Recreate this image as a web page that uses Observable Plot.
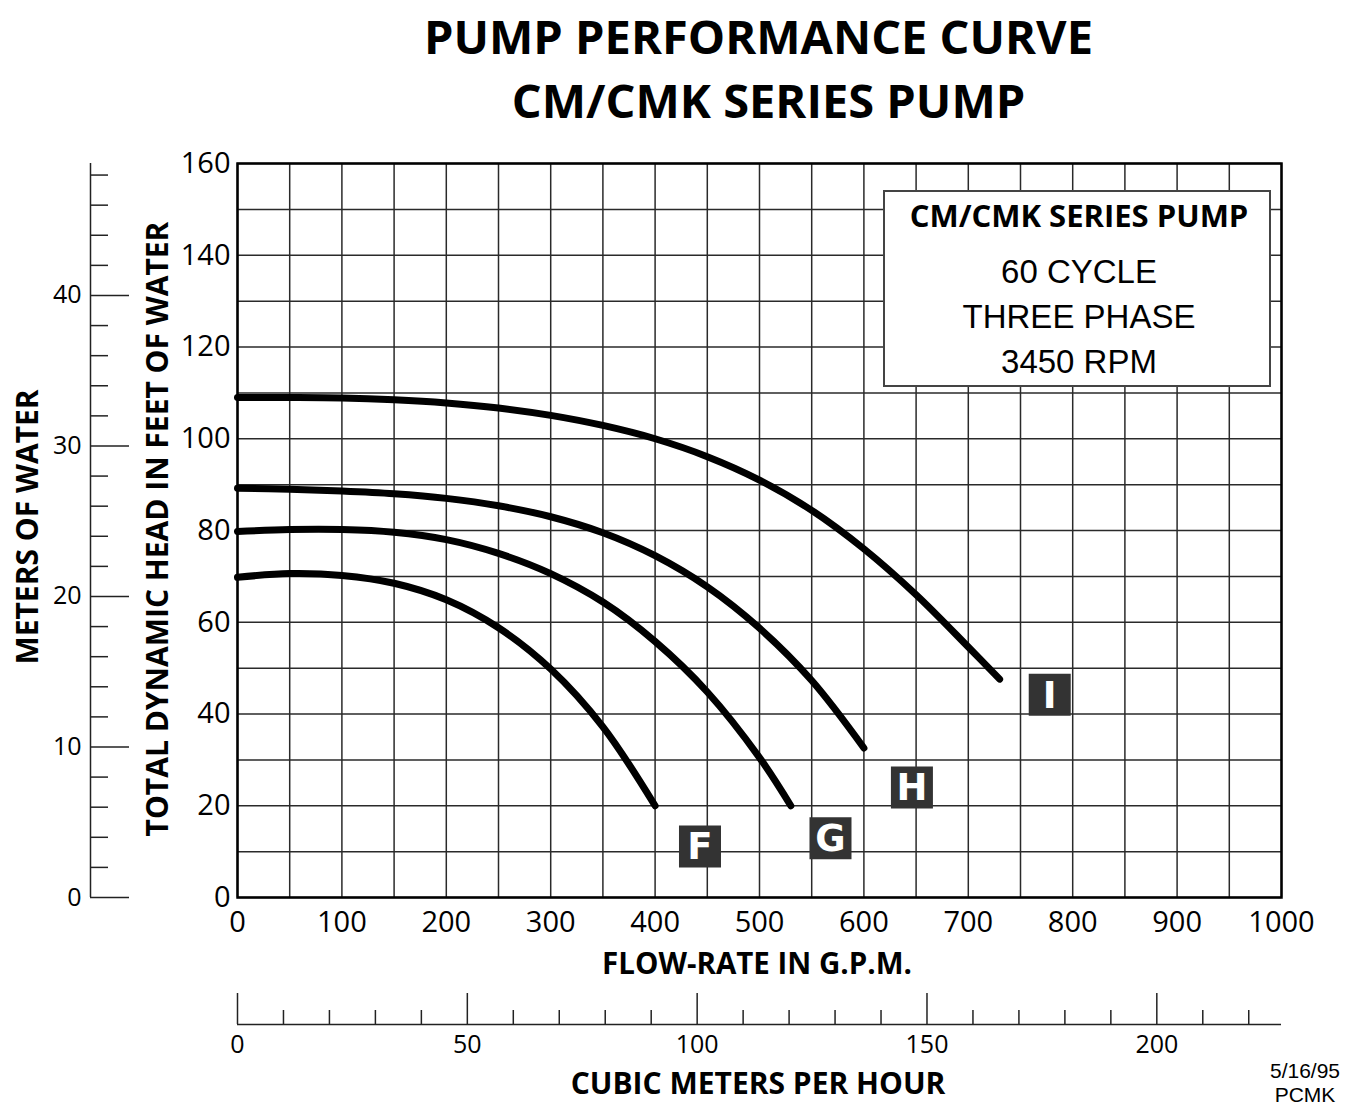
<!DOCTYPE html>
<html>
<head>
<meta charset="utf-8">
<script src="https://cdn.jsdelivr.net/npm/d3@7"></script>
<script src="https://cdn.jsdelivr.net/npm/@observablehq/plot@0.6"></script>
<style>
  body { margin: 0; background: #fff; }
  #wrap { position: relative; width: 1350px; height: 1112px; overflow: hidden; background: #fff; }
  #legend { position: absolute; left: 883px; top: 190px; width: 388px; height: 197px; box-sizing: border-box;
            border: 2px solid #444; background: #fff; }
  #legend div { position: absolute; left: 0; width: 100%; text-align: center; padding-left: 4px; box-sizing: border-box; white-space: nowrap; color: #000; }
  .lgB { font-family: "Open Sans", sans-serif; font-weight: 700; font-size: 31px; line-height: 31px; }
  .lgR { font-family: "Liberation Sans", Arial, sans-serif; font-weight: 400; font-size: 33px; line-height: 33px; }
</style>
</head>
<body>
<div id="wrap"></div>
<script>
// ---- data ----
const pumpNames = ["F", "G", "H", "I"];

const gpmF = [0, 50, 100, 150, 200, 250, 300, 350, 400];
const ftF  = [69.8, 70.6, 70.2, 68.5, 64.9, 58.8, 49.8, 37.2, 20.0];

const gpmG = [0, 50, 100, 150, 200, 250, 300, 350, 400, 450, 500, 530];
const ftG  = [79.8, 80.2, 80.2, 79.6, 78.0, 75.0, 70.6, 64.4, 55.8, 44.8, 30.5, 20.0];

const gpmH = [0, 50, 100, 150, 200, 250, 300, 350, 400, 450, 500, 550, 600];
const ftH  = [89.2, 89.0, 88.6, 88.0, 87.0, 85.4, 83.0, 79.5, 74.5, 67.7, 58.7, 47.3, 32.6];

const gpmI = [0, 50, 100, 150, 200, 250, 300, 350, 400, 450, 500, 550, 600, 650, 700, 730];
const ftI  = [109.0, 109.0, 108.9, 108.5, 107.8, 106.7, 105.1, 102.9, 100.0, 96.1, 91.0, 84.4, 76.0, 66.0, 54.6, 47.6];

// curve tag positions (gpm, ft)
const tagGpm = [443, 568, 646, 778];
const tagFt  = [11.1, 12.9, 24.0, 44.2];

// axis ticks / grid
const gpmTicks = [0, 100, 200, 300, 400, 500, 600, 700, 800, 900, 1000];
const ftTicks = [0, 20, 40, 60, 80, 100, 120, 140, 160];
const gpmGrid = d3.range(0, 1001, 50);
const ftGrid = d3.range(0, 161, 10);
const meterMajor = [0, 10, 20, 30, 40];
const meterMinor = [2, 4, 6, 8, 12, 14, 16, 18, 22, 24, 26, 28, 32, 34, 36, 38, 42, 44, 46, 48];
const m3hMajor = [0, 50, 100, 150, 200];
const m3hMinor = [10, 20, 30, 40, 60, 70, 80, 90, 110, 120, 130, 140, 160, 170, 180, 190, 210, 220];

const FT_PER_M = 3.28084;
const GPM_PER_M3H = 4.40287;

// ---- build tables ----
const series = {F: [gpmF, ftF], G: [gpmG, ftG], H: [gpmH, ftH], I: [gpmI, ftI]};
const rows = [];
for (const name of pumpNames) {
  const [xs, ys] = series[name];
  xs.forEach((x, i) => rows.push({pump: name, gpm: x, ft: ys[i]}));
}
const tags = pumpNames.map((name, i) => ({pump: name, gpm: tagGpm[i], ft: tagFt[i]}));

const OS = "'Open Sans', sans-serif";
const LS = "'Liberation Sans', Arial, sans-serif";

const chart = Plot.plot({
  width: 1350,
  height: 1112,
  marginLeft: 237,
  marginRight: 69,
  marginTop: 163,
  marginBottom: 215,
  x: {domain: [0, 1000], label: null},
  y: {domain: [0, 160], label: null},
  style: {fontFamily: OS, background: "white", color: "#000"},
  marks: [
    Plot.ruleX(gpmGrid, {stroke: "#2a2a2a", strokeWidth: 1.5}),
    Plot.ruleY(ftGrid, {stroke: "#2a2a2a", strokeWidth: 1.5}),
    Plot.frame({stroke: "#000", strokeWidth: 2.5}),
    Plot.line(rows, {x: "gpm", y: "ft", z: "pump", stroke: "#000", strokeWidth: 7,
                     curve: "catmull-rom", strokeLinecap: "round", strokeLinejoin: "round"}),
    Plot.dot(tags, {x: "gpm", y: "ft", symbol: "square", r: 23.7, fill: "#333", stroke: null}),
    Plot.text(tags, {x: "gpm", y: "ft", text: "pump", fill: "white", fontSize: 37, fontWeight: 700,
                     fontFamily: "'DejaVu Sans', sans-serif", dy: 1}),

    // main axes
    Plot.axisX({ticks: gpmTicks, tickFormat: d => String(d), tickSize: 0, tickPadding: 14, fontSize: 29, label: null, fill: "#000"}),
    Plot.axisY({ticks: ftTicks, tickFormat: d => String(d), tickSize: 0, tickPadding: 7, fontSize: 29, label: null, fill: "#000"}),

    // meters-of-water scale (left)
    Plot.ruleX([0], {dx: -147, stroke: "#222", strokeWidth: 1.5}),
    Plot.axisY({ticks: meterMajor.map(m => m * FT_PER_M), tickFormat: d => String(Math.round(d / FT_PER_M)),
                tickSize: 39, tickPadding: 9, dx: -108, fontSize: 25, label: null, stroke: "#222", strokeWidth: 1.5, fill: "#000"}),
    Plot.axisY({ticks: meterMinor.map(m => m * FT_PER_M), tickSize: 18, dx: -129, fill: "none",
                label: null, stroke: "#222", strokeWidth: 1.5}),

    // cubic meters per hour scale (bottom)
    Plot.ruleY([0], {dy: 127, stroke: "#222", strokeWidth: 1.5}),
    Plot.axisX({ticks: m3hMajor.map(m => m * GPM_PER_M3H), tickSize: 31, dy: 96, fill: "none",
                label: null, stroke: "#222", strokeWidth: 1.5}),
    Plot.axisX({ticks: m3hMinor.map(m => m * GPM_PER_M3H), tickSize: 14, dy: 113, fill: "none",
                label: null, stroke: "#222", strokeWidth: 1.5}),
    Plot.axisX({ticks: m3hMajor.map(m => m * GPM_PER_M3H), tickFormat: d => String(Math.round(d / GPM_PER_M3H)),
                tickSize: 0, tickPadding: 11, dy: 127, fontSize: 25, label: null, fill: "#000"}),

    // titles and axis titles
    Plot.text(["PUMP PERFORMANCE CURVE"], {frameAnchor: "top", textAnchor: "middle", dx: -1, dy: -124.7, fontSize: 47, fontWeight: 700, lineAnchor: "middle", fill: "#000"}),
    Plot.text(["CM/CMK SERIES PUMP"], {frameAnchor: "top", textAnchor: "middle", dx: 9, dy: -60.7, fontSize: 47, fontWeight: 700, lineAnchor: "middle", fill: "#000"}),
    Plot.text(["FLOW-RATE IN G.P.M."], {frameAnchor: "bottom", textAnchor: "middle", dx: -2.5, dy: 66.7, fontSize: 29.5, fontWeight: 700, lineAnchor: "middle", fill: "#000"}),
    Plot.text(["CUBIC METERS PER HOUR"], {frameAnchor: "bottom", textAnchor: "middle", dx: -1.5, dy: 186.4, fontSize: 30, fontWeight: 700, lineAnchor: "middle", fill: "#000"}),
    Plot.text(["TOTAL DYNAMIC HEAD IN FEET OF WATER"], {frameAnchor: "left", textAnchor: "middle", dx: -79, dy: -1.5, rotate: -90, fontSize: 30, fontWeight: 700, lineAnchor: "middle", fill: "#000"}),
    Plot.text(["METERS OF WATER"], {frameAnchor: "left", textAnchor: "middle", dx: -209.5, dy: -3.5, rotate: -90, fontSize: 30, fontWeight: 700, lineAnchor: "middle", fill: "#000"}),
    Plot.text(["5/16/95\nPCMK"], {frameAnchor: "bottom-right", textAnchor: "middle", dx: 23.5, dy: 185, fontSize: 21, lineHeight: 1.12, fontFamily: LS, lineAnchor: "middle", fill: "#000"})
  ]
});

const wrap = document.getElementById("wrap");
wrap.appendChild(chart);

// info box
const legend = document.createElement("div");
legend.id = "legend";
const legendLines = [
  {t: "CM/CMK SERIES PUMP", c: "lgB", top: 8},
  {t: "60 CYCLE", c: "lgR", top: 63},
  {t: "THREE PHASE", c: "lgR", top: 108},
  {t: "3450 RPM", c: "lgR", top: 153}
];
for (const l of legendLines) {
  const d = document.createElement("div");
  d.className = l.c;
  d.style.top = l.top + "px";
  d.textContent = l.t;
  legend.appendChild(d);
}
wrap.appendChild(legend);
</script>
</body>
</html>
